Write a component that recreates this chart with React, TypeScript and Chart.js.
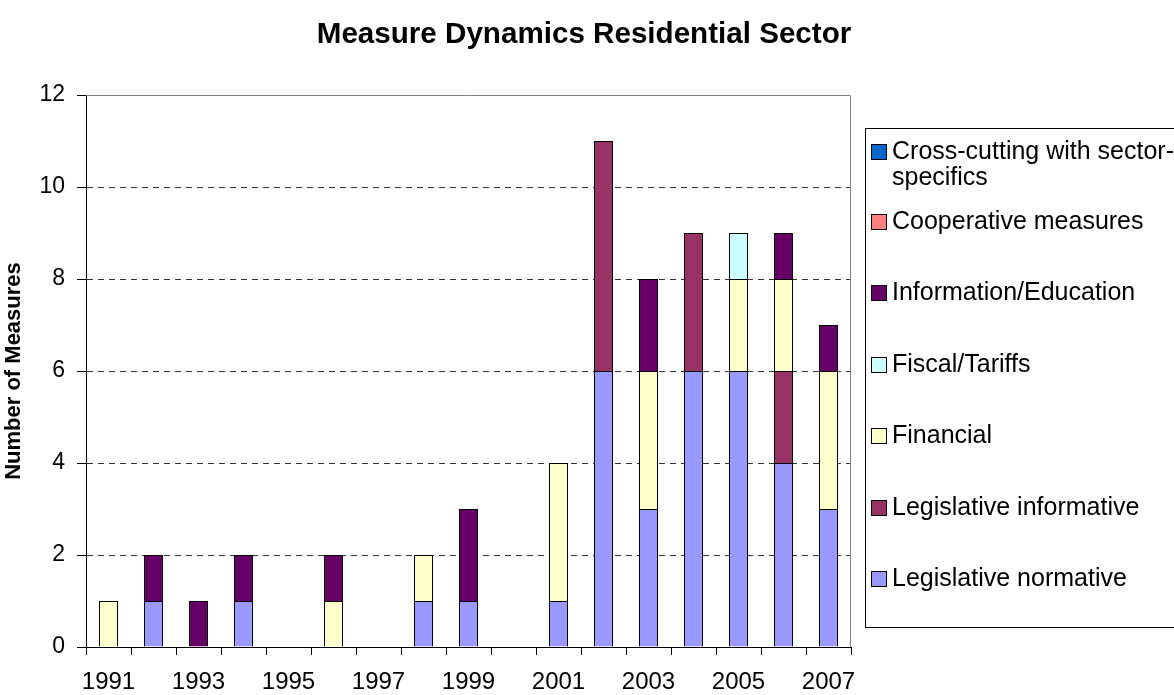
import React, { useEffect, useRef } from "react";
import { Chart, registerables } from "chart.js";

Chart.register(...registerables);

const years = ["1991", "1992", "1993", "1994", "1995", "1996", "1997", "1998", "1999", "2000", "2001", "2002", "2003", "2004", "2005", "2006", "2007"];

const legislativeNormative = [0, 1, 0, 1, 0, 0, 0, 1, 1, 0, 1, 6, 3, 6, 6, 4, 3];
const legislativeInformative = [0, 0, 0, 0, 0, 0, 0, 0, 0, 0, 0, 5, 0, 3, 0, 2, 0];
const financial = [1, 0, 0, 0, 0, 1, 0, 1, 0, 0, 3, 0, 3, 0, 2, 2, 3];
const fiscalTariffs = [0, 0, 0, 0, 0, 0, 0, 0, 0, 0, 0, 0, 0, 0, 1, 0, 0];
const informationEducation = [0, 1, 1, 1, 0, 1, 0, 0, 2, 0, 0, 0, 2, 0, 0, 1, 1];
const cooperativeMeasures = [0, 0, 0, 0, 0, 0, 0, 0, 0, 0, 0, 0, 0, 0, 0, 0, 0];
const crossCutting = [0, 0, 0, 0, 0, 0, 0, 0, 0, 0, 0, 0, 0, 0, 0, 0, 0];

const seriesNames = [
  "Legislative normative",
  "Legislative informative",
  "Financial",
  "Fiscal/Tariffs",
  "Information/Education",
  "Cooperative measures",
  "Cross-cutting with sector-specifics",
];
const legendLines = [
  ["Legislative normative"],
  ["Legislative informative"],
  ["Financial"],
  ["Fiscal/Tariffs"],
  ["Information/Education"],
  ["Cooperative measures"],
  ["Cross-cutting with sector-", "specifics"],
];
const seriesValues = [
  legislativeNormative,
  legislativeInformative,
  financial,
  fiscalTariffs,
  informationEducation,
  cooperativeMeasures,
  crossCutting,
];
const seriesColors = ["#9999FF", "#993366", "#FFFFCC", "#CCFFFF", "#660066", "#FF8080", "#0066CC"];

const yTicks = [0, 2, 4, 6, 8, 10, 12];

const chartTitle = "Measure Dynamics Residential Sector";
const yAxisTitle = "Number of Measures";

const FONT = "'Liberation Sans', Arial, Helvetica, sans-serif";

export default function App() {
  const ref = useRef<HTMLCanvasElement>(null);

  useEffect(() => {
    const canvas = ref.current;
    if (!canvas) return;

    const datasets = seriesNames.map((name, i) => ({
      label: name,
      data: seriesValues[i].map((v) => (v === 0 ? null : v)),
      backgroundColor: seriesColors[i],
      borderColor: "#000000",
      borderWidth: 1,
      barPercentage: 19 / 45,
      categoryPercentage: 1,
    }));

    const decorPlugin = {
      id: "decor",
      beforeDatasetsDraw(chart: any) {
        const { ctx, chartArea } = chart;
        ctx.save();
        ctx.strokeStyle = "#808080";
        ctx.lineWidth = 1;
        ctx.beginPath();
        ctx.moveTo(chartArea.left, Math.round(chartArea.top) + 0.5);
        ctx.lineTo(Math.round(chartArea.right) - 0.5, Math.round(chartArea.top) + 0.5);
        ctx.lineTo(Math.round(chartArea.right) - 0.5, chartArea.bottom);
        ctx.stroke();
        ctx.restore();
      },
      afterDraw(chart: any) {
        const { ctx } = chart;
        ctx.save();
        // title
        ctx.fillStyle = "#000";
        ctx.font = `bold 29.6px ${FONT}`;
        ctx.textAlign = "center";
        ctx.textBaseline = "middle";
        ctx.fillText(chartTitle, 584, 35);

        // legend box
        ctx.strokeStyle = "#000";
        ctx.lineWidth = 1;
        ctx.strokeRect(865.5, 128.5, 400, 499);

        const centers = [579, 508, 436, 365, 293, 222, 152];
        ctx.font = `25px ${FONT}`;
        ctx.textAlign = "left";
        for (let i = 0; i < seriesNames.length; i++) {
          const cy = centers[i];
          ctx.fillStyle = seriesColors[i];
          ctx.fillRect(871, cy - 8, 16, 16);
          ctx.strokeStyle = "#000";
          ctx.strokeRect(871.5, cy - 7.5, 15, 15);
          ctx.fillStyle = "#000";
          const lines = legendLines[i];
          lines.forEach((t, k) => {
            ctx.fillText(t, 892, cy + k * 26);
          });
        }
        ctx.restore();
      },
    };

    const chart = new Chart(canvas, {
      type: "bar",
      data: { labels: years, datasets },
      options: {
        responsive: false,
        animation: false,
        devicePixelRatio: 1,
        layout: { padding: { top: 95, right: 323, bottom: 0, left: 0 } },
        plugins: {
          legend: { display: false },
          title: { display: false },
          tooltip: { enabled: false },
        },
        scales: {
          x: {
            stacked: true,
            afterFit: (s: any) => {
              s.height = 48;
            },
            grid: {
              offset: true,
              drawOnChartArea: false,
              drawTicks: true,
              tickLength: 8,
              tickColor: "#000",
            },
            border: { display: true, color: "#000", width: 1 },
            ticks: {
              autoSkip: false,
              maxRotation: 0,
              minRotation: 0,
              padding: 13,
              color: "#000",
              font: { family: FONT, size: 24 },
              callback: (_v: any, i: number) => (i % 2 === 0 ? years[i] : ""),
            },
          },
          y: {
            stacked: true,
            min: 0,
            max: 12,
            afterFit: (s: any) => {
              s.width = 86;
            },
            afterBuildTicks: (s: any) => {
              s.ticks = yTicks.map((v) => ({ value: v }));
            },
            grid: {
              color: (c: any) => (c.tick && (c.tick.value === 0 || c.tick.value === 12) ? "rgba(0,0,0,0)" : "#333333"),
              lineWidth: 1,
              drawTicks: true,
              tickLength: 9,
              tickColor: "#000",
              tickBorderDash: [],
            },
            border: { display: true, color: "#000", width: 1, dash: [6, 5] },
            ticks: {
              padding: 12,
              color: "#000",
              font: { family: FONT, size: 23 },
            },
            title: {
              display: true,
              text: yAxisTitle,
              color: "#000",
              font: { family: FONT, size: 22, weight: "bold" },
              padding: { top: 1, bottom: 0 },
            },
          },
        },
      },
      plugins: [decorPlugin],
    } as any);

    return () => chart.destroy();
  }, []);

  return (
    <div style={{ position: "absolute", left: 0, top: 0, width: 1174, height: 695, background: "#fff" }}>
      <canvas ref={ref} width={1174} height={695} style={{ display: "block", width: 1174, height: 695 }} />
    </div>
  );
}
